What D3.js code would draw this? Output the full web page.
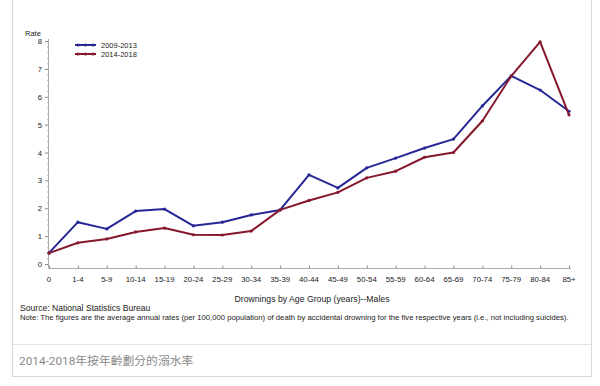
<!DOCTYPE html>
<html>
<head>
<meta charset="utf-8">
<script src="https://cdn.jsdelivr.net/npm/d3@7"></script>
<style>
  body { margin: 0; background: #fff; }
  svg { display: block; font-family: "Liberation Sans", Arial, sans-serif; }
</style>
</head>
<body>
<svg id="chart" width="600" height="386"></svg>
<script>
const ageGroups = ["0", "1-4", "5-9", "10-14", "15-19", "20-24", "25-29", "30-34", "35-39", "40-44",
  "45-49", "50-54", "55-59", "60-64", "65-69", "70-74", "75-79", "80-84", "85+"];
const rates0913 = [0.40, 1.50, 1.26, 1.90, 1.97, 1.37, 1.50, 1.76, 1.94, 3.20,
  2.73, 3.45, 3.80, 4.16, 4.48, 5.67, 6.75, 6.24, 5.48];
const rates1418 = [0.39, 0.76, 0.90, 1.15, 1.29, 1.05, 1.04, 1.18, 1.94, 2.28,
  2.57, 3.09, 3.33, 3.83, 4.00, 5.13, 6.74, 7.97, 5.35];
const yTicks = [0, 1, 2, 3, 4, 5, 6, 7, 8];

const series = [
  { name: "2009-2013", values: rates0913, color: "#262696" },
  { name: "2014-2018", values: rates1418, color: "#86182c" }
];

const svg = d3.select("#chart");

// card frame
svg.append("rect")
  .attr("x", 12.5).attr("y", -2).attr("width", 579).attr("height", 378.5)
  .attr("fill", "#fff").attr("stroke", "#d9d9d9");
svg.append("line")
  .attr("x1", 12.5).attr("x2", 591.5).attr("y1", 344.5).attr("y2", 344.5)
  .attr("stroke", "#e2e2e2");

const x = d3.scalePoint().domain(ageGroups).range([49, 569]);
const y = d3.scaleLinear().domain([0, 8]).range([264, 41]);

// y axis
const yAxis = svg.append("g").attr("transform", "translate(48,0)")
  .call(d3.axisLeft(y).tickValues(yTicks).tickSize(3).tickPadding(3).tickFormat(d3.format("d")));
yAxis.select(".domain").remove();
yAxis.selectAll("line").attr("stroke", "#888");
yAxis.selectAll("text").attr("font-size", 7.8).attr("fill", "#222");
svg.append("line")
  .attr("x1", 48.5).attr("x2", 48.5).attr("y1", 39).attr("y2", 268)
  .attr("stroke", "#aaa");
// minor ticks
svg.append("g").selectAll("line")
  .data(d3.range(0, 8.01, 0.2).filter(v => Math.abs(v - Math.round(v)) > 0.01))
  .join("line")
  .attr("x1", 47).attr("x2", 48.5)
  .attr("y1", d => y(d) + 0.5).attr("y2", d => y(d) + 0.5)
  .attr("stroke", "#bbb");

// x axis
const xAxis = svg.append("g").attr("transform", "translate(0,268.5)")
  .call(d3.axisTop(x).tickSize(3).tickFormat(""));
xAxis.select(".domain").remove();
xAxis.selectAll("line").attr("stroke", "#888");
svg.append("line")
  .attr("x1", 48.5).attr("x2", 571).attr("y1", 268.5).attr("y2", 268.5)
  .attr("stroke", "#aaa");
svg.append("g").selectAll("text")
  .data(ageGroups)
  .join("text")
  .attr("x", d => x(d)).attr("y", 282)
  .attr("text-anchor", "middle")
  .attr("font-size", 7.8).attr("fill", "#222")
  .text(d => d);

// lines
const line = d3.line()
  .x((d, i) => x(ageGroups[i]))
  .y(d => y(d));

series.forEach(s => {
  svg.append("path")
    .attr("d", line(s.values))
    .attr("fill", "none")
    .attr("stroke", s.color)
    .attr("stroke-width", 2)
    .attr("stroke-linejoin", "round");
  svg.append("g").selectAll("circle")
    .data(s.values)
    .join("circle")
    .attr("cx", (d, i) => x(ageGroups[i]))
    .attr("cy", d => y(d))
    .attr("r", 1.6)
    .attr("fill", s.color);
});

// legend
const legend = svg.append("g");
series.forEach((s, i) => {
  const ly = 45 + i * 9;
  legend.append("line")
    .attr("x1", 75).attr("x2", 96).attr("y1", ly).attr("y2", ly)
    .attr("stroke", s.color).attr("stroke-width", 2);
  [78, 85.5, 93].forEach(cx => legend.append("circle")
    .attr("cx", cx).attr("cy", ly).attr("r", 1.6).attr("fill", s.color));
  legend.append("text")
    .attr("x", 101).attr("y", ly + 2.8)
    .attr("font-size", 7.5).attr("fill", "#222")
    .text(s.name);
});

// labels
svg.append("text").attr("x", 25).attr("y", 36)
  .attr("font-size", 7.5).attr("fill", "#222").text("Rate");
svg.append("text").attr("x", 312).attr("y", 302)
  .attr("text-anchor", "middle")
  .attr("font-size", 8.7).attr("fill", "#222")
  .text("Drownings by Age Group (years)--Males");
svg.append("text").attr("x", 20).attr("y", 310.5)
  .attr("font-size", 8.6).attr("fill", "#222")
  .text("Source: National Statistics Bureau");
svg.append("text").attr("x", 20).attr("y", 320)
  .attr("font-size", 7.7).attr("fill", "#222")
  .text("Note: The figures are the average annual rates (per 100,000 population) of death by accidental drowning for the five respective years (i.e., not including suicides).");

// caption
svg.append("text").attr("x", 19).attr("y", 365)
  .attr("font-family", "Roboto, 'Noto Sans CJK TC', sans-serif")
  .attr("font-size", 11.8).attr("fill", "#8a8a8a")
  .text("2014-2018年按年齡劃分的溺水率");
</script>
</body>
</html>
